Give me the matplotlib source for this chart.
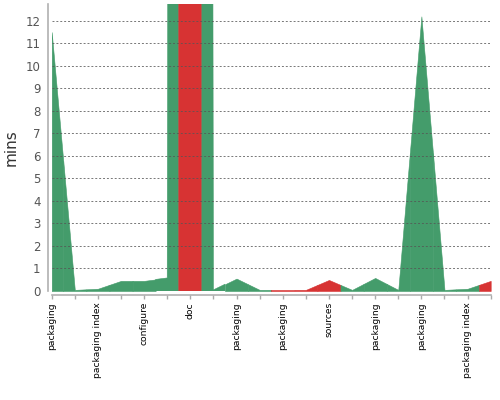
import matplotlib
matplotlib.use("Agg")
import matplotlib.pyplot as plt
import numpy as np

# build durations (mins) and their status, one per build
durations = [11.5, 0.05, 0.1, 0.45, 0.45, 0.58, 600.0, 0.05, 0.55, 0.05,
             0.05, 0.05, 0.49, 0.05, 0.58, 0.05, 12.2, 0.05, 0.1, 0.45]
status = ["ok", "ok", "ok", "ok", "ok", "ok", "fail", "ok", "ok", "ok",
          "fail", "fail", "fail", "ok", "ok", "ok", "ok", "ok", "ok", "fail"]
labels = ["packaging", "packaging index", "configure", "doc", "packaging",
          "packaging", "sources", "packaging", "packaging", "packaging index"]

colors = {"ok": "#449c6b", "fail": "#d73333"}

fig = plt.figure(figsize=(5, 4), dpi=100)
ax = fig.add_axes([0.1034, 0.2725, 0.878, 0.7175])

# spines first: set_position resets the tick formatting
for side in ["top", "right"]:
    ax.spines[side].set_visible(False)
for side in ["left", "bottom"]:
    ax.spines[side].set_position(("outward", 3))
    ax.spines[side].set_color("#b0b0b0")
    ax.spines[side].set_linewidth(1.2)

x = np.arange(len(durations))
y = np.array(durations)

# each build owns the half-interval on both sides of its point
for i in range(len(x)):
    xs, ys = [x[i]], [y[i]]
    if i > 0:
        xs.insert(0, x[i] - 0.5)
        ys.insert(0, (y[i] + y[i - 1]) / 2)
    if i < len(x) - 1:
        xs.append(x[i] + 0.5)
        ys.append((y[i] + y[i + 1]) / 2)
    c = colors[status[i]]
    ax.fill_between(xs, ys, 0, facecolor=c, edgecolor=c, linewidth=0.4, zorder=1)

ax.set_xlim(0, len(x) - 1)
ax.set_ylim(0, 12.75)
ax.set_yticks(range(0, 13))
ax.set_xticks(x)
ax.set_xticklabels([labels[i // 2] if i % 2 == 0 else "" for i in x])
ax.tick_params(axis="x", length=3, width=1, color="#aaaaaa", pad=2,
               labelrotation=90, labelsize=6.6, labelcolor="black")
ax.tick_params(axis="y", length=0, labelsize=8.5, labelcolor="#555555", pad=5)

ax.yaxis.grid(True, color="#555555", linestyle=(0, (2, 2)), linewidth=0.7, alpha=0.8)
ax.set_axisbelow(False)
ax.get_ygridlines()[0].set_visible(False)

ax.set_ylabel("mins", fontsize=11, color="#333333", labelpad=5)

fig.savefig("out.png", dpi=100)
